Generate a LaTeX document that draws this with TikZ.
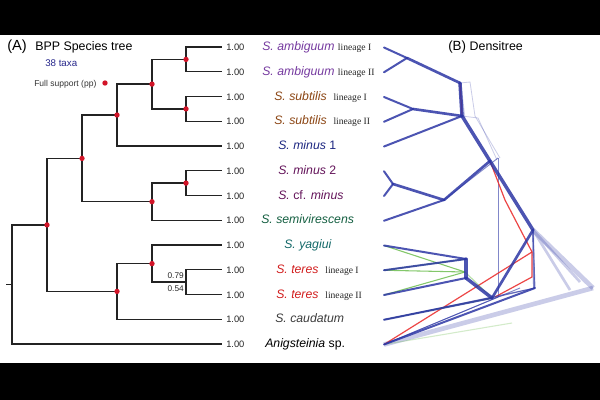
\documentclass[tikz,border=0pt]{standalone}
\usepackage{fontspec}
\setmainfont{Liberation Sans}
\newfontfamily\lserif{Liberation Serif}
\definecolor{camb}{RGB}{118,58,160}
\definecolor{csub}{RGB}{140,70,20}
\definecolor{cmin}{RGB}{30,40,130}
\definecolor{cmintwo}{RGB}{100,20,90}
\definecolor{csemi}{RGB}{20,95,65}
\definecolor{cyag}{RGB}{20,105,105}
\definecolor{cter}{RGB}{210,30,30}
\definecolor{ccau}{RGB}{60,60,60}
\definecolor{treecol}{RGB}{35,35,35}
\definecolor{dblue}{RGB}{45,55,165}
\definecolor{dred}{RGB}{235,50,50}
\definecolor{dgreen}{RGB}{110,190,80}
\definecolor{supred}{RGB}{210,20,40}
\definecolor{taxblue}{RGB}{40,40,140}
\begin{document}
\begin{tikzpicture}[x=0.75pt,y=-0.75pt,
  br/.style={draw=treecol,line width=1.1pt},
  ppdot/.style={circle,fill=supred,inner sep=0pt,minimum size=4pt},
  val/.style={font=\fontsize{7}{8}\selectfont,anchor=mid west,inner sep=0pt,text=black!85},
  spn/.style={font=\fontsize{9.2}{10}\selectfont,anchor=mid west,inner sep=0pt},
  dt/.style={draw=dblue,line width=1.5pt,opacity=0.85,line cap=round},
  dtthin/.style={draw=dblue,line width=0.7pt,opacity=0.6},
  dtfaint/.style={draw=dblue,line width=0.6pt,opacity=0.25},
  dtfuzz/.style={draw=dblue,line width=3.5pt,opacity=0.25},
  dtred/.style={draw=dred,line width=0.9pt,opacity=0.9},
  dtgreen/.style={draw=dgreen,line width=0.8pt,opacity=0.85}
]
\newcommand{\lin}[1]{{\lserif\fontsize{7.2}{8}\selectfont\color{black!85}#1}}
\useasboundingbox (0,0) rectangle (600,400);
\fill[white] (0,35) rectangle (600,363);
\fill[black] (0,0) rectangle (600,35);
\fill[black] (0,363) rectangle (600,400);

% ---------- (A) titles
\node[anchor=mid west,inner sep=0pt,font=\fontsize{11}{12}\selectfont] (A) at (7,47) {(A)};
\node[anchor=mid west,inner sep=0pt,font=\fontsize{9.3}{11}\selectfont] (At) at (35,47) {BPP Species tree};
\node[anchor=mid west,inner sep=0pt,font=\fontsize{7.3}{9}\selectfont,text=taxblue] (tax) at (45,63) {38 taxa};
\node[anchor=mid west,inner sep=0pt,font=\fontsize{6.4}{8}\selectfont,text=black!80] (fs) at (34,83) {Full support (pp)};
\node[ppdot] (fsd) at (105,83) {};

% ---------- tips
\foreach \i/\yy in {1/47,2/71.75,3/96.5,4/121.25,5/146,6/170.75,7/195.5,8/220.25,9/245,10/269.75,11/294.5,12/319.25,13/344}{
  \coordinate (t\i) at (222,\yy);
  \node[val] (v\i) at (226,\yy) {1.00};
  \coordinate (d\i) at (384,\yy+0.5);
}

% internal nodes
\coordinate (n12) at (186,59.4);
\coordinate (n34) at (186,108.9);
\coordinate (n1234) at (152,84.1);
\coordinate (nA) at (117,115);
\coordinate (n67) at (186,183.1);
\coordinate (n678) at (152,201.7);
\coordinate (nB) at (82,158.4);
\coordinate (n1011) at (186,282.1);
\coordinate (n91011) at (152,263.6);
\coordinate (nC) at (117,291.4);
\coordinate (nD) at (47,224.9);
\coordinate (root) at (12,284.5);
\coordinate (stem) at (6,284.5);

\draw[br] (n12) |- (t1); \draw[br] (n12) |- (t2);
\draw[br] (n34) |- (t3); \draw[br] (n34) |- (t4);
\draw[br] (n1234) |- (n12); \draw[br] (n1234) |- (n34);
\draw[br] (nA) |- (n1234); \draw[br] (nA) |- (t5);
\draw[br] (n67) |- (t6); \draw[br] (n67) |- (t7);
\draw[br] (n678) |- (n67); \draw[br] (n678) |- (t8);
\draw[br] (nB) |- (nA); \draw[br] (nB) |- (n678);
\draw[br] (n1011) |- (t10); \draw[br] (n1011) |- (t11);
\draw[br] (n91011) |- (t9); \draw[br] (n91011) |- (n1011);
\draw[br] (nC) |- (n91011); \draw[br] (nC) |- (t12);
\draw[br] (nD) |- (nB); \draw[br] (nD) |- (nC);
\draw[br] (root) |- (nD); \draw[br] (root) |- (t13);
\draw[br] (stem) -- (root);

\foreach \n in {n12,n34,n1234,nA,n67,n678,nB,n91011,nC,nD}{\node[ppdot] at (\n) {};}

\node[anchor=base east,inner sep=0pt,font=\fontsize{6.2}{7}\selectfont,text=black!85] (p79) at (184,278) {0.79};
\node[anchor=base east,inner sep=0pt,font=\fontsize{6.2}{7}\selectfont,text=black!85] (p54) at (184,291) {0.54};

% ---------- species names
\node[spn,text=camb] (s1) at (262,47) {\textit{S. ambiguum} \lin{lineage I}};
\node[spn,text=camb] (s2) at (262,71.75) {\textit{S. ambiguum} \lin{lineage II}};
\node[spn,text=csub] (s3) at (274,96.5) {\textit{S. subtilis} \ \lin{lineage I}};
\node[spn,text=csub] (s4) at (274,121.25) {\textit{S. subtilis} \ \lin{lineage II}};
\node[spn,text=cmin] (s5) at (278,146) {\textit{S. minus} 1};
\node[spn,text=cmintwo] (s6) at (278,170.75) {\textit{S. minus} 2};
\node[spn,text=cmintwo] (s7) at (278,195.5) {\textit{S.} cf. \textit{minus}};
\node[spn,text=csemi] (s8) at (261,220.25) {\textit{S. semivirescens}};
\node[spn,text=cyag] (s9) at (284,245) {\textit{S. yagiui}};
\node[spn,text=cter] (s10) at (276,269.75) {\textit{S. teres} \ \lin{lineage I}};
\node[spn,text=cter] (s11) at (276,294.5) {\textit{S. teres} \ \lin{lineage II}};
\node[spn,text=ccau] (s12) at (275,319.25) {\textit{S. caudatum}};
\node[spn,text=black] (s13) at (265,344) {\textit{Anigsteinia} sp.};

% ---------- (B) Densitree
\node[anchor=mid west,inner sep=0pt,font=\fontsize{10}{12}\selectfont] (B) at (448,47) {(B) {\fontsize{9.3}{11}\selectfont Densitree}};

\coordinate (a12) at (407,58);
\coordinate (a34) at (413,109);
\coordinate (a67) at (393,184);
\coordinate (p1) at (460,83);
\coordinate (p2) at (462,116);
\coordinate (p3) at (490,161);
\coordinate (p3b) at (498,158);
\coordinate (m) at (444,200);
\coordinate (q) at (533,230);
\coordinate (r) at (593,288);
\coordinate (y1) at (466,259);
\coordinate (y2) at (466,278);
\coordinate (z) at (492,298);
\coordinate (s) at (535,288);
\coordinate (vb) at (498,297);
\coordinate (g1) at (465,272);
\coordinate (g2) at (512,323);
\coordinate (rd1) at (505,200);
\coordinate (rd2) at (532,252);
\coordinate (rd3) at (532,277);
\coordinate (rd4) at (495,297);

% fuzzy / faint background trees
\draw[dtfuzz] (q) -- (r);
\draw[dtfuzz] (d13) -- (r);
\draw[dtfaint,line width=2pt] (q) -- (580,282) (q) -- (570,290);
\draw[dtfaint] (p1) -- (470,82) -- (475,116) -- (500,158);
\draw[dtfaint] (p2) -- (478,118) -- (497,160);
\draw[dtfaint,line width=2pt] (p1) -- (464,118);
\draw[dtthin] (m) -- (p3b);
\draw[dtthin] (p3b) -- (vb);
\draw[dtthin] (q) -- (s);
\draw[dtthin,line width=1.4pt] (533,232) -- (534,288);

% red
\draw[dtred] (p1) -- (p2);
\draw[dtred] (p3) -- (rd1) -- (rd2) -- (rd3) -- (rd4);
\draw[dtred] (d13) -- (rd2);

% green
\draw[dtgreen] (d9) -- (g1);
\draw[dtgreen] (d10) -- (g1);
\draw[dtgreen] (d11) -- (g1);
\draw[dtgreen] (d10) -- (y1);
\draw[dtgreen] (d12) -- (z);
\draw[dtgreen,opacity=0.3] (d13) -- (g2);
\draw[dtgreen,opacity=0.5] (g1) -- (z);

% main blue
\draw[dt] (d1) -- (a12); \draw[dt] (d2) -- (a12);
\draw[dt,line width=2pt] (a12) -- (p1);
\draw[dt] (d3) -- (a34); \draw[dt] (d4) -- (a34);
\draw[dt,line width=2pt] (a34) -- (p2);
\draw[dt] (d5) -- (p2);
\draw[dt,line width=2.6pt] (p1) -- (p2);
\draw[dt,line width=2.6pt] (p2) -- (p3);
\draw[dt,line width=2.6pt] (p3) -- (q);
\draw[dt] (d6) -- (a67); \draw[dt] (d7) -- (a67);
\draw[dt,line width=2pt] (a67) -- (m);
\draw[dt] (d8) -- (m);
\draw[dt,line width=2pt] (m) -- (p3);
\draw[dt] (d9) -- (y1);
\draw[dt] (d10) -- (y1);
\draw[dt,line width=2.4pt] (y1) -- (y2);
\draw[dt] (d11) -- (y2);
\draw[dt,line width=2.6pt] (y2) -- (z);
\draw[dt] (d12) -- (z);
\draw[dt,line width=2pt] (z) -- (q);
\draw[dtthin] (z) -- (s);
\draw[dtthin] (d13) -- (vb);
\draw[dtthin] (d13) -- (520,288);
\draw[dt] (d13) -- (s);
\draw[dtthin] (d12) -- (s);
\end{tikzpicture}
\end{document}
